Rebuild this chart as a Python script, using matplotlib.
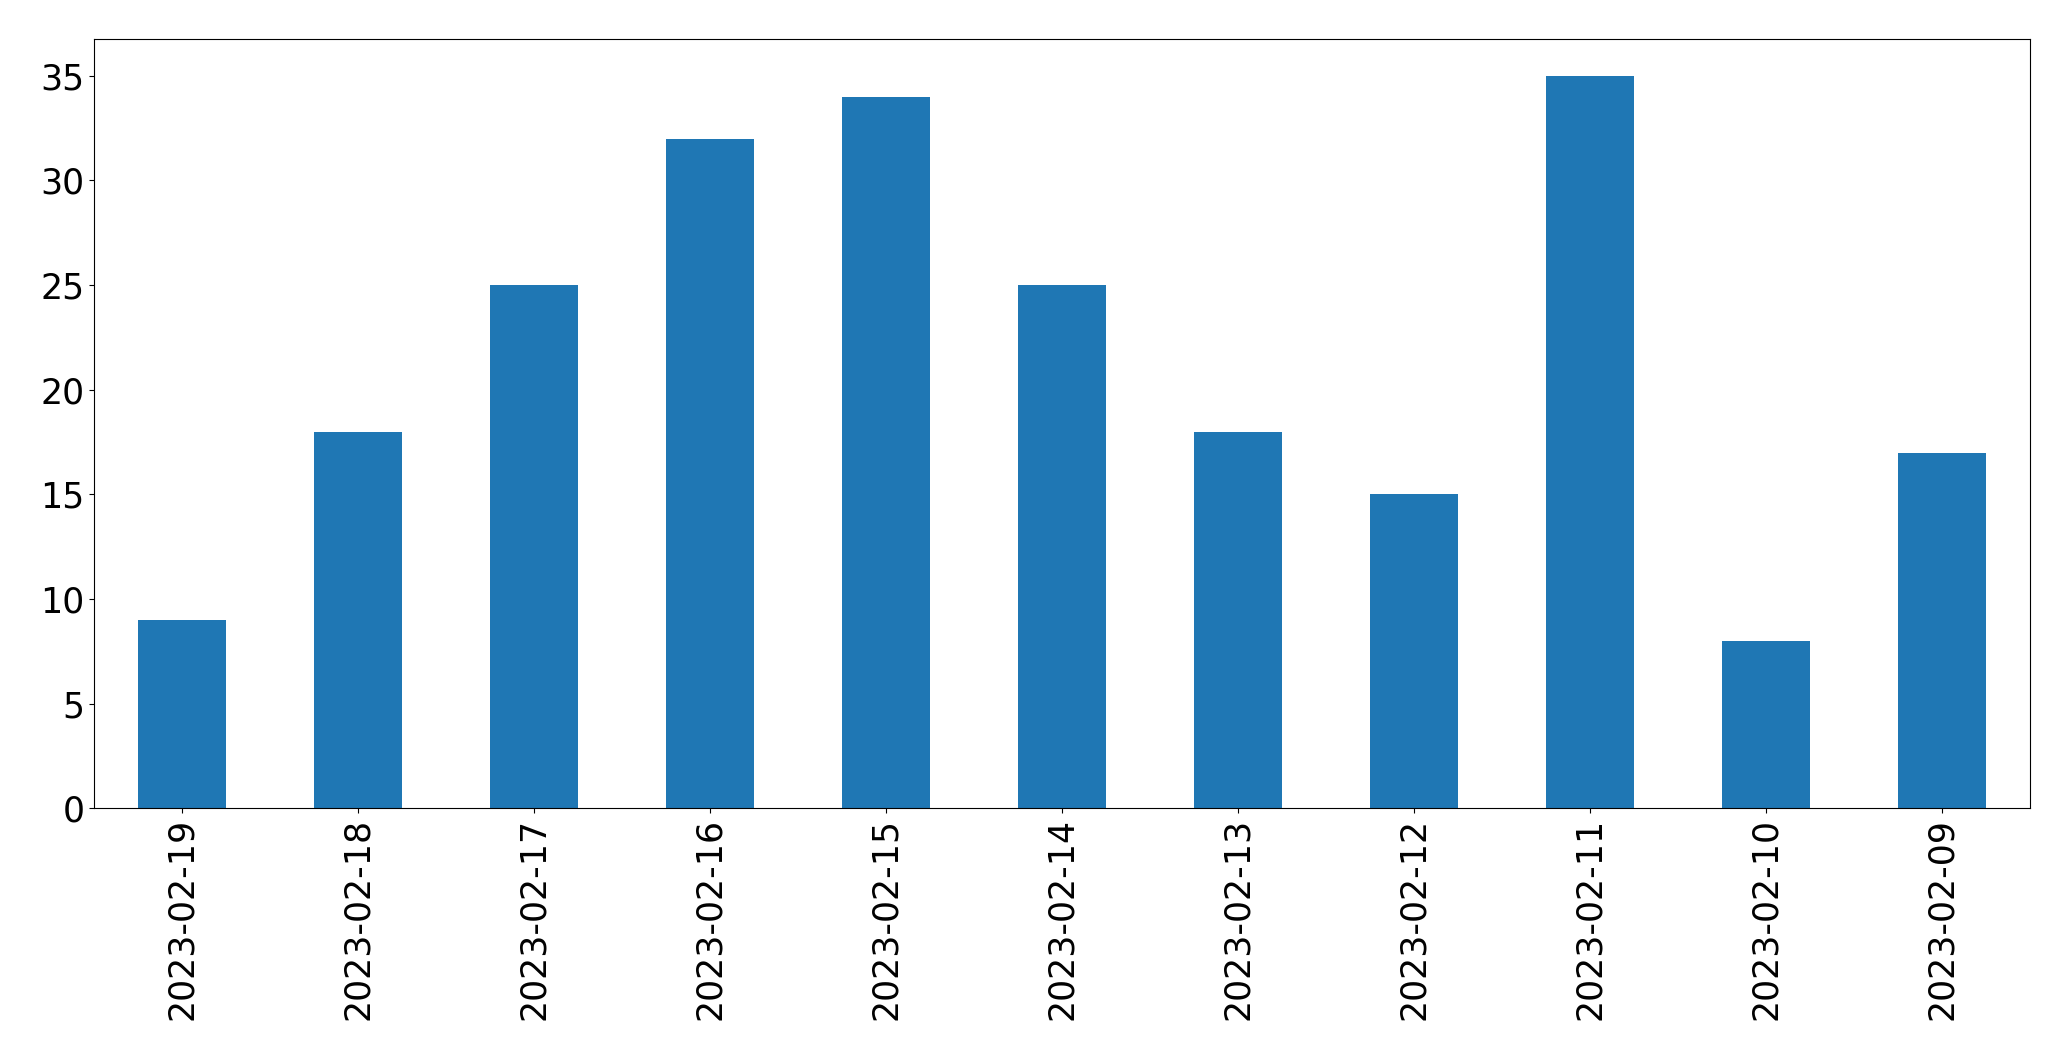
import matplotlib
matplotlib.use('Agg')
import matplotlib.pyplot as plt
import pandas as pd

dates = ['2023-02-19', '2023-02-18', '2023-02-17', '2023-02-16', '2023-02-15',
         '2023-02-14', '2023-02-13', '2023-02-12', '2023-02-11', '2023-02-10',
         '2023-02-09']
counts = [9, 18, 25, 32, 34, 25, 18, 15, 35, 8, 17]

s = pd.Series(counts, index=dates)

fig, ax = plt.subplots(figsize=(20.71, 10.6), dpi=100)
s.plot(kind='bar', ax=ax, color='#1f77b4')
ax.tick_params(axis='both', labelsize=25)
ax.set_ylim(0, 36.75)
fig.subplots_adjust(left=0.0454, right=0.980, top=0.963, bottom=0.2375)
fig.savefig('out.png', dpi=100)
